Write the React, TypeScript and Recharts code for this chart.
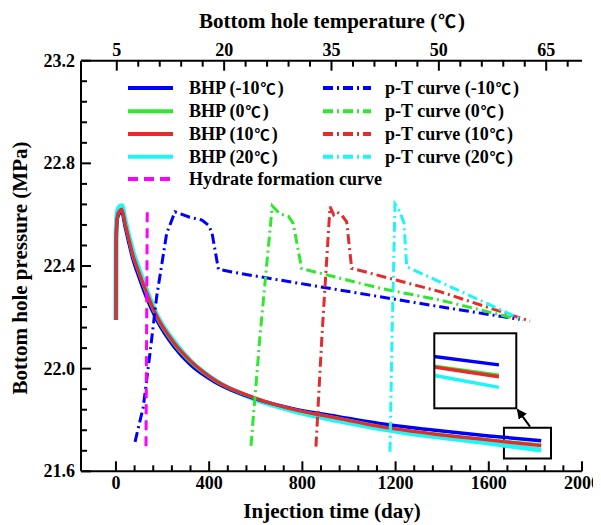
import React from 'react';
import { LineChart, Line, XAxis, YAxis, ReferenceArea } from 'recharts';

const FONT = '"Liberation Serif", "Times New Roman", serif';
const CJK = '"Noto Sans CJK SC", "Noto Sans CJK JP", sans-serif';

// ---------- BHP vs injection time (day) ----------
const timeDays = [0, 1, 6, 15, 25, 39, 53, 75, 90, 130, 175, 250, 320, 430, 600, 750, 960, 1130, 1350, 1600, 1825];
const bhpM10 = [22.19, 22.5, 22.585, 22.605, 22.612, 22.555, 22.5, 22.42, 22.38, 22.28, 22.19, 22.085, 22.015, 21.945, 21.882, 21.846, 21.812, 21.786, 21.762, 21.738, 21.719];
const bhp0 = [22.19, 22.51, 22.59, 22.612, 22.62, 22.565, 22.512, 22.432, 22.394, 22.295, 22.2, 22.095, 22.025, 21.95, 21.884, 21.844, 21.806, 21.776, 21.748, 21.723, 21.703];
const bhp10 = [22.19, 22.52, 22.595, 22.615, 22.622, 22.567, 22.514, 22.436, 22.397, 22.3, 22.205, 22.1, 22.03, 21.952, 21.885, 21.844, 21.805, 21.775, 21.747, 21.722, 21.7];
const bhp20 = [22.19, 22.54, 22.61, 22.63, 22.635, 22.58, 22.525, 22.45, 22.41, 22.31, 22.21, 22.105, 22.03, 21.952, 21.88, 21.838, 21.796, 21.767, 21.737, 21.71, 21.683];

// ---------- p-T curves (bottom hole temperature, ℃) ----------
const ptM10T = [7.55, 8.7, 9.64, 10.57, 11.97, 13.13, 15.2, 16.9, 17.8, 18.3, 19.2, 22.2, 41.8, 50.2, 61.3];
const ptM10P = [21.715, 21.85, 22.06, 22.28, 22.527, 22.611, 22.59, 22.579, 22.559, 22.53, 22.387, 22.371, 22.28, 22.241, 22.192];
const pt0T = [23.75, 25.0, 26.72, 27.8, 29.0, 29.66, 30.83, 41.8, 50.2, 60.6];
const pt0P = [21.699, 22.124, 22.634, 22.603, 22.593, 22.565, 22.39, 22.313, 22.267, 22.196];
const pt10T = [32.83, 33.63, 34.79, 35.3, 35.73, 36.43, 37.12, 37.82, 50.16, 62.74];
const pt10P = [21.696, 22.111, 22.631, 22.6, 22.611, 22.598, 22.572, 22.391, 22.3, 22.185];
const pt20T = [43.17, 43.45, 43.87, 44.57, 45.13, 45.51, 61.8];
const pt20P = [21.676, 22.111, 22.641, 22.611, 22.566, 22.397, 22.189];
const hydrateT = [9.08, 9.26];
const hydrateP = [21.698, 22.631];

// ---------- axes ----------
const timeDomain = [-150, 2000];
const tempDomain = [0, 70];
const pDomain = [21.6, 23.2];
const timeTicks = Array.from({ length: 26 }, (_, i) => i * 80);
const tempTicks = Array.from({ length: 22 }, (_, i) => 5 + i * 3);
const pTicks = Array.from({ length: 21 }, (_, i) => +(21.6 + i * 0.08).toFixed(2));
const pLabels = ['21.6', '22.0', '22.4', '22.8', '23.2'];

// zoom window shown in the inset
const zoomT = [1665, 1867];
const zoomP = [21.65, 21.77];

const BLUE = '#0000FF';
const GREEN = '#2EE82E';
const RED = '#E52B2B';
const CYAN = '#1EF6F6';
const MAGENTA = '#FF00FF';

const pts = (xs: number[], ys: number[]) => xs.map((x, i) => ({ x, y: ys[i] }));

const bhpSeries = [
  { id: 'b20', label: '20', color: CYAN, width: 5, data: pts(timeDays, bhp20) },
  { id: 'bm10', label: '-10', color: BLUE, width: 3.5, data: pts(timeDays, bhpM10) },
  { id: 'b0', label: '0', color: GREEN, width: 3, data: pts(timeDays, bhp0) },
  { id: 'b10', label: '10', color: RED, width: 3.2, data: pts(timeDays, bhp10) },
];
const ptSeries = [
  { id: 'pm10', label: '-10', color: BLUE, data: pts(ptM10T, ptM10P) },
  { id: 'p0', label: '0', color: GREEN, data: pts(pt0T, pt0P) },
  { id: 'p10', label: '10', color: RED, data: pts(pt10T, pt10P) },
  { id: 'p20', label: '20', color: CYAN, data: pts(pt20T, pt20P) },
];
const hydrateData = pts(hydrateT, hydrateP);
const PT_DASH = '10 4 2 4';
const HYD_DASH = '10 6';

const txt = { fontFamily: FONT, fontWeight: 'bold' as const, fill: '#000' };

const BottomTick = (props: any) => {
  const { x, y, payload } = props;
  const v = payload.value;
  const major = v % 400 === 0;
  return (
    <g>
      <line x1={x} y1={y} x2={x} y2={y - (major ? 10 : 6)} stroke="#000" strokeWidth={2} />
      {major && (
        <text x={x} y={y + 18} textAnchor="middle" fontSize={18} {...txt}>{v}</text>
      )}
    </g>
  );
};

const TopTick = (props: any) => {
  const { x, y, payload } = props;
  const v = payload.value;
  const major = (v - 5) % 15 === 0;
  return (
    <g>
      <line x1={x} y1={y} x2={x} y2={y + (major ? 10 : 6)} stroke="#000" strokeWidth={2} />
      {major && (
        <text x={x} y={y - 5} textAnchor="middle" fontSize={18} {...txt}>{v}</text>
      )}
    </g>
  );
};

const LeftTick = (props: any) => {
  const { x, y, index } = props;
  const major = index % 5 === 0;
  return (
    <g>
      <line x1={x} y1={y} x2={x + (major ? 10 : 6)} y2={y} stroke="#000" strokeWidth={2} />
      {major && (
        <text x={x - 6} y={y + 6} textAnchor="end" fontSize={18} {...txt}>{pLabels[index / 5]}</text>
      )}
    </g>
  );
};

const Deg = () => (
  <tspan fontFamily={CJK} fontWeight="bold" fontSize="0.85em" dx={1}>℃</tspan>
);

const W = 593;
const H = 517;

export default function App() {
  const legendLeft = [
    ...[bhpSeries[1], bhpSeries[2], bhpSeries[3], bhpSeries[0]].map((s) => ({
      text: <>BHP ({s.label}<Deg /><tspan dx={2}>)</tspan></>, color: s.color, dash: undefined as string | undefined,
    })),
    { text: <>Hydrate formation curve</>, color: MAGENTA, dash: HYD_DASH },
  ];
  const legendRight = ptSeries.map((s) => ({
    text: <>p-T curve ({s.label}<Deg /><tspan dx={2}>)</tspan></>, color: s.color, dash: PT_DASH,
  }));
  const rowsL = [80, 103.3, 126, 148.7, 171];

  return (
    <div style={{ position: 'relative', width: W, height: H }}>
      <LineChart width={W} height={H} margin={{ top: 0, right: 19, bottom: 0, left: 0 }}>
        <XAxis
          xAxisId="t" dataKey="x" type="number" domain={timeDomain} ticks={timeTicks}
          allowDataOverflow interval={0} height={53.7} tickSize={0} tickMargin={0}
          tickLine={false} axisLine={{ stroke: '#000', strokeWidth: 2 }} tick={<BottomTick />}
        />
        <XAxis
          xAxisId="T" dataKey="x" type="number" orientation="top" domain={tempDomain} ticks={tempTicks}
          allowDataOverflow interval={0} height={52.7} tickSize={0} tickMargin={0}
          tickLine={false} axisLine={{ stroke: '#000', strokeWidth: 2 }} tick={<TopTick />}
        />
        <YAxis
          type="number" domain={pDomain} ticks={pTicks} allowDataOverflow interval={0}
          width={73} tickSize={0} tickMargin={0} tickLine={false}
          axisLine={{ stroke: '#000', strokeWidth: 2 }} tick={<LeftTick />}
        />
        <YAxis
          yAxisId="r" orientation="right" type="number" domain={[0, 1]} width={0}
          tick={false} tickLine={false} axisLine={{ stroke: '#000', strokeWidth: 2 }}
        />
        {bhpSeries.map((s) => (
          <Line
            key={s.id} xAxisId="t" data={s.data} dataKey="y" type="monotone" stroke={s.color}
            strokeWidth={s.width} dot={false} isAnimationActive={false}
          />
        ))}
        {ptSeries.map((s) => (
          <Line
            key={s.id} xAxisId="T" data={s.data} dataKey="y" type="linear" stroke={s.color}
            strokeWidth={3} strokeDasharray={PT_DASH} dot={false} isAnimationActive={false}
          />
        ))}
        <Line
          xAxisId="T" data={hydrateData} dataKey="y" type="linear" stroke={MAGENTA}
          strokeWidth={3} strokeDasharray={HYD_DASH} dot={false} isAnimationActive={false}
        />
        <ReferenceArea
          xAxisId="t" x1={zoomT[0]} x2={zoomT[1]} y1={zoomP[0]} y2={zoomP[1]}
          fill="none" fillOpacity={0} stroke="#000" strokeWidth={2} ifOverflow="visible"
        />
      </LineChart>

      {/* inset */}
      <div style={{ position: 'absolute', left: 426.3, top: 325.3, width: 82, height: 75, background: '#fff' }}>
        <LineChart width={82} height={75} margin={{ top: 0, right: 0, bottom: 0, left: 0 }}>
          <XAxis xAxisId="t" dataKey="x" type="number" domain={zoomT} allowDataOverflow hide />
          <YAxis type="number" domain={zoomP} allowDataOverflow hide />
          {bhpSeries.map((s) => (
            <Line
              key={s.id} xAxisId="t" data={s.data} dataKey="y" type="linear" stroke={s.color}
              strokeWidth={s.id === 'b0' ? 3 : 3.5} dot={false} isAnimationActive={false}
            />
          ))}
        </LineChart>
      </div>

      <svg width={W} height={H} style={{ position: 'absolute', left: 0, top: 0, pointerEvents: 'none' }}>
        <defs>
          <marker id="ah" viewBox="0 0 10 10" refX="9" refY="5" markerWidth="5" markerHeight="5" orient="auto">
            <path d="M0,0 L10,5 L0,10 z" fill="#000" />
          </marker>
        </defs>
        <rect x={426.3} y={325.3} width={82} height={75} fill="none" stroke="#000" strokeWidth={2} />
        <line x1={522} y1={418.7} x2={509.5} y2={401.5} stroke="#000" strokeWidth={2} markerEnd="url(#ah)" />

        {/* axis titles */}
        <text x={324} y={20} textAnchor="middle" fontSize={21} {...txt}>
          Bottom hole temperature (<Deg /><tspan dx={2}>)</tspan>
        </text>
        <text x={324} y={510} textAnchor="middle" fontSize={21} {...txt}>
          Injection time (day)
        </text>
        <text x={19} y={260} textAnchor="middle" fontSize={21} {...txt} transform="rotate(-90 19 260)">
          Bottom hole pressure (MPa)
        </text>

        {/* legend */}
        {legendLeft.map((it, i) => (
          <g key={'l' + i}>
            <line x1={120} y1={rowsL[i]} x2={165} y2={rowsL[i]} stroke={it.color} strokeWidth={4} strokeDasharray={it.dash} />
            <text x={181} y={rowsL[i] + 6} fontSize={18} {...txt}>{it.text}</text>
          </g>
        ))}
        {legendRight.map((it, i) => (
          <g key={'r' + i}>
            <line x1={315} y1={rowsL[i]} x2={363} y2={rowsL[i]} stroke={it.color} strokeWidth={4} strokeDasharray={it.dash} />
            <text x={377} y={rowsL[i] + 6} fontSize={18} {...txt}>{it.text}</text>
          </g>
        ))}
      </svg>
    </div>
  );
}
